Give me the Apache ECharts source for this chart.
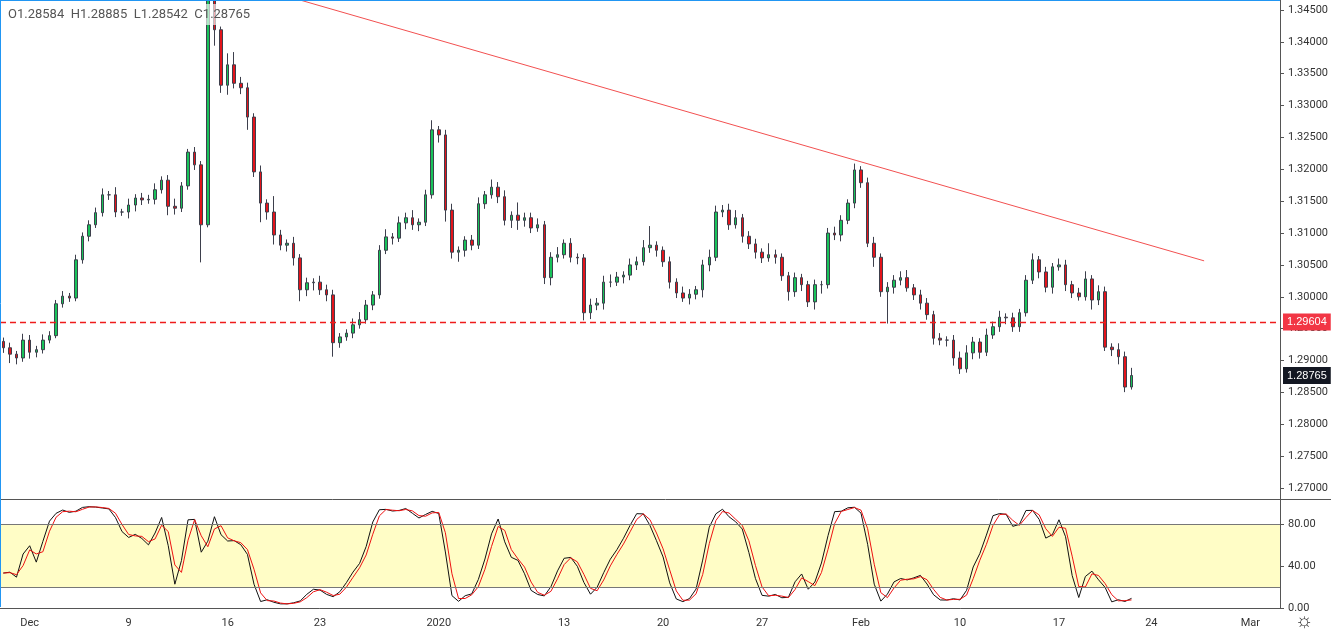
<!DOCTYPE html>
<html><head><meta charset="utf-8">
<script src="https://cdn.jsdelivr.net/npm/echarts@6/dist/echarts.min.js"></script>
<style>html,body{margin:0;padding:0;background:#fff}#c{width:1331px;height:633px}</style>
</head><body><div id="c"></div>
<script>
// closes (price), one bar per slot
const closes=[1.2920,1.2910,1.2904,1.2932,1.2913,1.2917,1.2932,1.2939,1.2989,1.3001,
1.2998,1.3058,1.3095,1.3113,1.3132,1.3160,1.3160,1.3133,1.3133,1.3144,
1.3155,1.3152,1.3153,1.3168,1.3183,1.3142,1.3139,1.3174,1.3227,1.3207,
1.3113,1.3490,1.3419,1.3332,1.3364,1.3335,1.3328,1.3282,1.3196,1.3147,
1.3133,1.3097,1.3081,1.3084,1.3061,1.3011,1.3022,1.3023,1.3011,1.3003,
1.2928,1.2937,1.2943,1.2956,1.2964,1.2987,1.3003,1.3073,1.3094,1.3092,
1.3116,1.3124,1.3113,1.3117,1.3160,1.3262,1.3254,1.3136,1.3070,1.3073,
1.3089,1.3081,1.3146,1.3160,1.3172,1.3157,1.3120,1.3128,1.3120,1.3124,
1.3108,1.3113,1.3030,1.3062,1.3066,1.3084,1.3062,1.3061,1.2975,1.2987,
1.2990,1.3023,1.3023,1.3031,1.3034,1.3050,1.3055,1.3077,1.3081,1.3073,
1.3055,1.3023,1.3006,1.2998,1.3004,1.3011,1.3050,1.3062,1.3133,1.3136,
1.3113,1.3124,1.3095,1.3083,1.3070,1.3061,1.3066,1.3062,1.3033,1.3008,
1.3030,1.3019,1.2992,1.3019,1.3019,1.3100,1.3097,1.3120,1.3147,1.3199,
1.3179,1.3084,1.3062,1.3008,1.3015,1.3026,1.3030,1.3014,1.3003,1.2990,
1.2972,1.2935,1.2932,1.2932,1.2904,1.2887,1.2912,1.2929,1.2913,1.2940,
1.2953,1.2968,1.2967,1.2953,1.2975,1.3026,1.3058,1.3039,1.3015,1.3047,
1.3050,1.3019,1.3006,1.3000,1.3028,1.2995,1.3008,1.2921,1.2917,1.2906,
1.28584,1.28765];
const firstOpen=1.2930;
// wick lengths in pips (0.0001)
const upWick=[6,8,5,10,8,6,9,7,6,8, 5,8,6,7,8,10,6,12,5,10, 6,8,7,10,6,8,12,6,5,8,
6,24,8,5,18,20,10,8,6,10, 6,25,8,6,10,6,8,6,10,8, 8,6,6,10,12,8,6,8,12,6,
10,8,12,6,8,15,6,8,10,6, 6,8,10,6,12,8,10,6,20,8, 8,10,6,8,12,6,8,6,6,10,
8,10,12,8,6,10,8,12,30,6, 6,8,6,10,8,6,8,12,10,8, 10,12,6,8,8,6,18,8,6,6,
8,6,6,8,6,8,10,8,6,10, 6,8,10,6,8,8,10,12,6,8, 8,6,8,6,8,10,12,8,6,10,
8,10,6,8,6,8,10,6,8,6, 10,8,6,8,12,6,10,8,6,10, 8,12];
const downWick=[8,14,10,6,10,8,6,5,4,6, 6,5,6,8,5,6,8,8,6,10, 10,8,6,8,6,14,10,6,6,8,
59,4,25,12,15,8,10,20,8,30, 12,15,8,10,12,18,10,12,8,10, 22,8,6,8,6,6,8,6,6,10,
6,10,8,10,6,6,12,18,10,15, 10,8,6,8,6,10,8,12,15,10, 8,6,10,12,8,6,8,10,12,10,
8,10,8,6,10,8,8,6,8,10, 8,10,8,6,10,8,12,10,6,8, 8,6,10,8,10,8,6,10,8,14,
8,10,8,12,14,6,8,10,6,8, 8,6,15,8,50,10,8,6,8,10, 8,10,8,10,12,8,6,10,10,6,
6,8,10,8,8,6,6,10,8,10, 6,10,8,6,6,15,8,6,10,12, 8,4];
const tickLabels={4:'Dec',19:'9',34:'16',48:'23',66:'2020',85:'13',100:'20',115:'27',130:'Feb',145:'10',160:'17',174:'24',189:'Mar'};
const priceTicks=[1.27,1.275,1.28,1.285,1.29,1.295,1.30,1.305,1.31,1.315,1.32,1.325,1.33,1.335,1.34,1.345];
const stochTicks=[0,40,80];
const slotCount=194;
const levelPrice=1.29604, lastPrice=1.28765;
const trendStart=[45,1.34656], trendEnd=[182,1.30564];

const cats=[];for(let i=0;i<slotCount;i++)cats.push(tickLabels[i]||'');
const ohlc=[],highs=[],lows=[];
for(let i=0;i<closes.length;i++){
  const o=i===0?firstOpen:closes[i-1], c=closes[i];
  const h=Math.max(o,c)+upWick[i]/10000, l=Math.min(o,c)-downWick[i]/10000;
  highs.push(h);lows.push(l);ohlc.push([o,c,l,h]);
}
// Stochastic (7,2,2 on these bars)
const n=7, raw=[];
for(let i=0;i<closes.length;i++){
  let hh=-1e9,ll=1e9;for(let j=Math.max(0,i-n+1);j<=i;j++){hh=Math.max(hh,highs[j]);ll=Math.min(ll,lows[j]);}
  raw.push(100*(closes[i]-ll)/(hh-ll));
}
const sma=(a,p)=>a.map((v,i)=>{let s=0,k=0;for(let j=Math.max(0,i-p+1);j<=i;j++){s+=a[j];k++;}return s/k;});
const K=sma(raw,2), D=sma(K,2);

const ch=echarts.init(document.getElementById('c'));
const lab={color:'#333',fontSize:11,fontFamily:'Roboto'};
ch.setOption({
  animation:false,
  title:{text:'O1.28584  H1.28885  L1.28542  C1.28765',left:4,top:4,padding:[4,4],backgroundColor:'rgba(255,255,255,0.65)',z:20,textStyle:{color:'#555',fontSize:13,fontWeight:'normal',fontFamily:'Roboto'}},
  grid:[{left:0,right:51,top:0,bottom:134},{left:0,right:51,top:500,bottom:25}],
  xAxis:[
    {type:'category',data:cats,gridIndex:0,boundaryGap:true,axisLine:{show:false},axisTick:{show:false},axisLabel:{show:false}},
    {type:'category',data:cats,gridIndex:1,boundaryGap:true,axisLine:{lineStyle:{color:'#555'}},
     axisTick:{alignWithLabel:true,interval:(i,v)=>v!=='',length:4,lineStyle:{color:'#555'}},
     axisLabel:{interval:(i,v)=>v!=='',...lab,fontSize:11,margin:10}}
  ],
  yAxis:[
    {type:'value',gridIndex:0,position:'right',min:1.26827,max:1.34657,
     axisLine:{show:true,lineStyle:{color:'#555'}},axisTick:{show:true,length:4,customValues:priceTicks,lineStyle:{color:'#555'}},
     splitLine:{show:false},axisLabel:{...lab,customValues:priceTicks,margin:8,formatter:v=>v.toFixed(5)}},
    {type:'value',gridIndex:1,position:'right',min:0,max:103,
     axisLine:{show:true,lineStyle:{color:'#555'}},axisTick:{show:true,length:4,customValues:stochTicks,lineStyle:{color:'#555'}},
     splitLine:{show:false},axisLabel:{...lab,customValues:stochTicks,margin:8,formatter:v=>v.toFixed(2)}}
  ],
  graphic:[
    {type:'line',shape:{x1:0,y1:499.5,x2:1331,y2:499.5},style:{stroke:'#555',lineWidth:1},z:10},
    {type:'line',shape:{x1:0.5,y1:0,x2:0.5,y2:607},style:{stroke:'#2196f3',lineWidth:1},z:10},
    {type:'line',shape:{x1:0,y1:0.5,x2:1280,y2:0.5},style:{stroke:'#2196f3',lineWidth:1},z:10},
    {type:'text',left:1295,top:611,style:{text:'☼',fontSize:20,fill:'#333'}}
  ],
  series:[
    {type:'candlestick',xAxisIndex:0,yAxisIndex:0,data:ohlc,barWidth:3,clip:true,
     itemStyle:{color:'#19c25a',color0:'#e3141b',borderColor:'#3d3f4c',borderColor0:'#3d3f4c',borderWidth:1},
     markLine:{symbol:'none',silent:true,animation:false,precision:5,data:[
       [{coord:trendStart,lineStyle:{color:'#f25050',width:1,type:'solid'},label:{show:false}},{coord:trendEnd}]
     ]}},
    {type:'line',xAxisIndex:0,yAxisIndex:0,data:[],symbol:'none',z:6,
     markLine:{symbol:'none',silent:true,animation:false,precision:5,data:[
       {yAxis:levelPrice,lineStyle:{color:'#ee1c1c',width:1.3,type:[6,4]},
        label:{show:true,position:'end',formatter:'1.29604',color:'#fff',backgroundColor:'#f23645',padding:[3,4],fontSize:11,distance:3}},
       {yAxis:lastPrice,lineStyle:{color:'rgba(0,0,0,0)',width:0.01},
        label:{show:true,position:'end',formatter:'1.28765',color:'#fff',backgroundColor:'#131722',padding:[3,4],fontSize:11,distance:3}}
     ]}},
    {type:'line',xAxisIndex:1,yAxisIndex:1,data:K,symbol:'none',lineStyle:{color:'#111',width:1},z:3,
     markArea:{silent:true,itemStyle:{color:'#fffdc6'},data:[[{yAxis:20},{yAxis:80}]]},
     markLine:{symbol:'none',silent:true,lineStyle:{color:'#777',width:1,type:'solid'},label:{show:false},data:[{yAxis:20},{yAxis:80}]}},
    {type:'line',xAxisIndex:1,yAxisIndex:1,data:D,symbol:'none',lineStyle:{color:'#ee1111',width:1},z:4}
  ]
});
</script></body></html>
